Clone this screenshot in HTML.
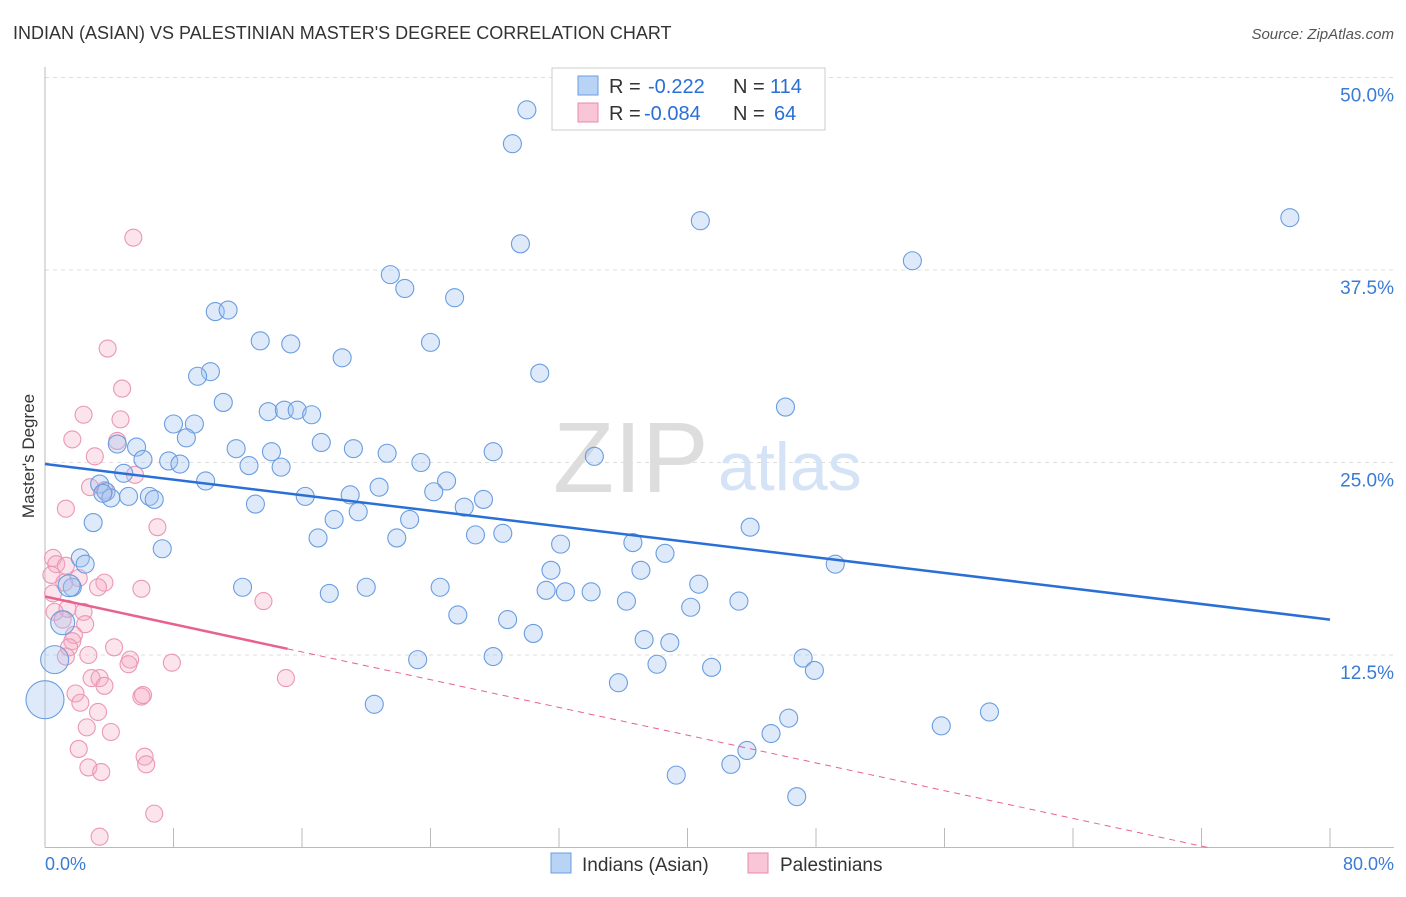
<!DOCTYPE html>
<html><head><meta charset="utf-8"><style>
body{margin:0;background:#fff;font-family:"Liberation Sans",sans-serif;}
svg text{font-family:"Liberation Sans",sans-serif;}
</style></head><body>
<svg id="c" width="1406" height="892">
<text x="13" y="39" font-size="18" fill="#333">INDIAN (ASIAN) VS PALESTINIAN MASTER'S DEGREE CORRELATION CHART</text>
<text x="1394" y="39" font-size="15" fill="#555" text-anchor="end" font-style="italic">Source: ZipAtlas.com</text>
<text transform="translate(34,456) rotate(-90)" font-size="17" fill="#333" text-anchor="middle">Master's Degree</text>
<g id="grid"></g>
<text x="553" y="492" font-size="100" fill="#ddd" font-family="Liberation Serif">ZIP</text>
<text x="718" y="490" font-size="68" fill="#d4e3f5">atlas</text>
<g id="pts"></g>
<g id="lines"></g>
<g>
<rect x="552" y="68" width="273" height="62" fill="#fff" stroke="#ccc"/>
<rect x="578" y="76" width="20" height="19" fill="#b8d3f3" stroke="#6a9ee0"/>
<rect x="578" y="103" width="20" height="19" fill="#f8c6d6" stroke="#e88aa8"/>
<text x="609" y="93" font-size="20" fill="#333">R =</text>
<text x="648" y="93" font-size="20" fill="#2a6fd6">-0.222</text>
<text x="733" y="93" font-size="20" fill="#333">N =</text>
<text x="770" y="93" font-size="20" fill="#2a6fd6">114</text>
<text x="609" y="120" font-size="20" fill="#333">R =</text>
<text x="644" y="120" font-size="20" fill="#2a6fd6">-0.084</text>
<text x="733" y="120" font-size="20" fill="#333">N =</text>
<text x="774" y="120" font-size="20" fill="#2a6fd6">64</text>
</g>
<g>
<rect x="551" y="853" width="20" height="20" fill="#b8d3f3" stroke="#6a9ee0"/>
<text x="582" y="871" font-size="19" fill="#333">Indians (Asian)</text>
<rect x="748" y="853" width="20" height="20" fill="#f8c6d6" stroke="#e88aa8"/>
<text x="780" y="871" font-size="19" fill="#333">Palestinians</text>
</g>
<text x="45" y="870" font-size="18" fill="#3a7bd5">0.0%</text>
<text x="1394" y="870" font-size="18" fill="#3a7bd5" text-anchor="end">80.0%</text>
</svg>
<script>
const yTicks=[12.5,25,37.5,50];
const yTickLabels=["12.5%","25.0%","37.5%","50.0%"];
const xTicks=[0,8,16,24,32,40,48,56,64,72,80];
const blueX=[30.0,29.1,40.8,77.5,29.6,54.0,21.5,22.4,25.5,10.6,11.4,13.4,15.3,24.0,18.5,10.3,9.5,30.8,11.1,13.9,14.9,15.7,16.6,46.1,8.0,9.3,8.8,4.5,5.7,11.9,14.1,17.2,19.2,21.3,27.9,34.2,6.1,7.7,8.4,12.7,14.7,23.4,4.9,10.0,25.0,3.4,3.8,20.8,24.2,4.1,5.2,6.5,6.8,16.2,19.0,27.3,13.1,26.1,19.5,22.7,18.0,3.0,43.9,26.8,28.5,17.0,21.9,32.1,36.6,7.3,38.6,2.2,2.5,49.2,31.5,37.1,1.7,12.3,20.0,24.6,40.7,31.2,32.4,34.0,17.7,36.2,43.2,40.2,25.7,28.8,1.1,30.4,37.3,38.9,0.6,23.2,27.9,38.1,47.2,41.5,47.9,35.7,0,20.5,58.8,55.8,46.3,45.2,43.7,42.7,39.3,46.8,1.5,3.6];
const blueY=[47.9,45.7,40.7,40.9,39.2,38.1,37.2,36.3,35.7,34.8,34.9,32.9,32.7,32.8,31.8,30.9,30.6,30.8,28.9,28.3,28.4,28.4,28.1,28.6,27.5,27.5,26.6,26.2,26.0,25.9,25.7,26.3,25.9,25.6,25.7,25.4,25.2,25.1,24.9,24.8,24.7,25.0,24.3,23.8,23.8,23.6,23.1,23.4,23.1,22.7,22.8,22.8,22.6,22.8,22.9,22.6,22.3,22.1,21.8,21.3,21.3,21.1,20.8,20.3,20.4,20.1,20.1,19.7,19.8,19.4,19.1,18.8,18.4,18.4,18.0,18.0,16.9,16.9,16.9,16.9,17.1,16.7,16.6,16.6,16.5,16.0,16.0,15.6,15.1,14.8,14.6,13.9,13.5,13.3,12.2,12.2,12.4,11.9,12.3,11.7,11.5,10.7,9.6,9.3,8.8,7.9,8.4,7.4,6.3,5.4,4.7,3.3,17.0,23.0];
const blueR=[9,9,9,9,9,9,9,9,9,9,9,9,9,9,9,9,9,9,9,9,9,9,9,9,9,9,9,9,9,9,9,9,9,9,9,9,9,9,9,9,9,9,9,9,9,9,9,9,9,9,9,9,9,9,9,9,9,9,9,9,9,9,9,9,9,9,9,9,9,9,9,9,9,9,9,9,9,9,9,9,9,9,9,9,9,9,9,9,9,9,12,9,9,9,14,9,9,9,9,9,9,9,19,9,9,9,9,9,9,9,9,9,11,9];
const pinkX=[5.5,3.9,4.8,2.4,4.7,1.7,4.5,3.1,5.6,2.8,3.7,1.3,7.0,0.5,0.7,1.3,0.4,2.1,1.2,3.7,3.3,6.0,0.5,13.6,1.4,0.6,2.4,1.1,2.5,1.8,1.7,4.3,1.5,2.7,1.3,5.3,5.2,7.9,2.9,3.4,3.7,15.0,1.9,6.0,6.1,2.2,3.3,2.6,4.1,2.1,6.2,6.3,2.7,3.5,6.8,3.4];
const pinkY=[39.6,32.4,29.8,28.1,27.8,26.5,26.4,25.4,24.2,23.4,23.2,22.0,20.8,18.8,18.4,18.3,17.7,17.5,17.2,17.2,16.9,16.8,16.5,16.0,15.5,15.3,15.3,14.8,14.5,13.8,13.4,13.0,13.0,12.5,12.4,12.2,11.9,12.0,11.0,11.0,10.5,11.0,10.0,9.8,9.9,9.4,8.8,7.8,7.5,6.4,5.9,5.4,5.2,4.9,2.2,0.7];
const trendBlue=[24.9,14.8];
const trendPink=[16.3,12.9,15.1];
const NS="http://www.w3.org/2000/svg";
const L=45,R=1330,T=77.5,B=847.5;
const sx=v=>L+v/80*(R-L);
const sy=v=>B-v/50*(B-T);
function mk(t,a,p){const e=document.createElementNS(NS,t);for(const k in a)e.setAttribute(k,a[k]);p.appendChild(e);return e;}
const grid=document.getElementById('grid');
yTicks.forEach((v,i)=>{
 const g=mk('line',{x1:L,x2:1394,y1:sy(v),y2:sy(v),stroke:'#ddd','stroke-dasharray':'4,4'},grid);
 
 
 const t=mk('text',{x:1394,y:sy(v)+24,'font-size':19,fill:'#3a7bd5','text-anchor':'end'},grid);
 t.textContent=yTickLabels[i];
 
 
});
const ax=mk('line',{x1:L,x2:L,y1:67,y2:B,stroke:'#bbb'},grid);


const bx=mk('line',{x1:L,x2:1394,y1:B,y2:B,stroke:'#bbb'},grid);


xTicks.forEach(v=>{
 const t=mk('line',{x1:sx(v),x2:sx(v),y1:828,y2:B,stroke:'#bbb'},grid);
 
 
});
const pts=document.getElementById('pts');
pinkX.forEach((x,i)=>{
 const c=mk('circle',{cx:sx(x),cy:sy(pinkY[i]),r:8.5,fill:'rgba(244,165,192,0.3)',stroke:'#eb97b3','stroke-width':1.1},pts);
 
 
});
blueX.forEach((x,i)=>{
 const c=mk('circle',{cx:sx(x),cy:sy(blueY[i]),r:blueR[i],fill:'rgba(160,196,240,0.35)',stroke:'#6a9de0','stroke-width':1.1},pts);
 
 
});
const ln=document.getElementById('lines');
const b=mk('line',{x1:sx(0),y1:sy(trendBlue[0]),x2:sx(80),y2:sy(trendBlue[1]),stroke:'#2a6fd6','stroke-width':2.5},ln);


const slope=(trendPink[1]-trendPink[0])/trendPink[2];
const p=mk('line',{x1:sx(0),y1:sy(trendPink[0]),x2:sx(trendPink[2]),y2:sy(trendPink[1]),stroke:'#e8628e','stroke-width':2.5},ln);


const xe=-trendPink[0]/slope;
const pd=mk('line',{x1:sx(trendPink[2]),y1:sy(trendPink[1]),x2:sx(xe),y2:sy(0),stroke:'#e8628e','stroke-width':1,'stroke-dasharray':'6,5'},ln);


</script>
</body></html>
